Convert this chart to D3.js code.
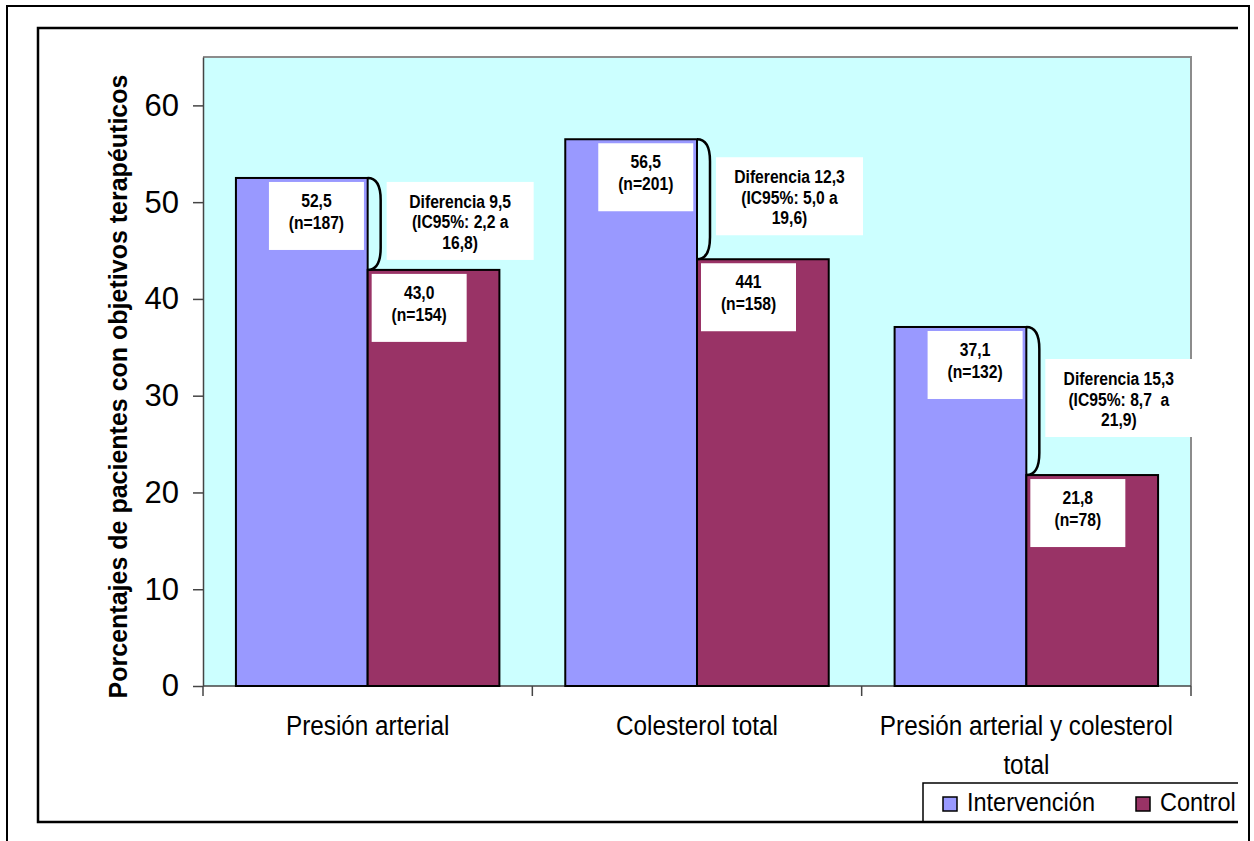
<!DOCTYPE html>
<html>
<head>
<meta charset="utf-8">
<script src="https://d3js.org/d3.v7.min.js"></script>
<style>
  body {margin: 0; background: #fff;}
  text {font-family: "Liberation Sans", Arial, sans-serif; fill: #000; white-space: pre;}
</style>
</head>
<body>
<script>
  // data
  const categories = ["Presión arterial", "Colesterol total", "Presión arterial y colesterol total"];
  const categoryLines = [["Presión arterial"], ["Colesterol total"], ["Presión arterial y colesterol", "total"]];
  const series = ["Intervención", "Control"];
  const intervencion = [52.5, 56.5, 37.1];
  const control = [43.0, 44.1, 21.8];
  const intervencionLabels = ["52,5", "56,5", "37,1"];
  const intervencionN = [187, 201, 132];
  const controlLabels = ["43,0", "441", "21,8"];
  const controlN = [154, 158, 78];
  const diffLabels = [
    ["Diferencia 9,5", "(IC95%: 2,2 a", "16,8)"],
    ["Diferencia 12,3", "(IC95%: 5,0 a", "19,6)"],
    ["Diferencia 15,3", "(IC95%: 8,7  a", "21,9)"]
  ];
  const yTicks = [0, 10, 20, 30, 40, 50, 60];
  const yTitle = "Porcentajes de pacientes con objetivos terapéuticos";

  const colors = {"Intervención": "#9999FF", "Control": "#993366"};

  const width = 1254, height = 841,
        plot = {left: 203, right: 1191, top: 57, bottom: 686};

  const svg = d3.select("body").append("svg")
      .attr("width", width)
      .attr("height", height);

  // frames
  svg.append("rect")
      .attr("x", 7).attr("y", 6).attr("width", 1242).attr("height", 870)
      .attr("fill", "none").attr("stroke", "#000").attr("stroke-width", 2);
  svg.append("path")
      .attr("d", "M1238,28 H38 V822 H1238")
      .attr("fill", "none").attr("stroke", "#000").attr("stroke-width", 2.5);

  // plot area
  svg.append("rect")
      .attr("x", plot.left).attr("y", plot.top)
      .attr("width", plot.right - plot.left).attr("height", plot.bottom - plot.top)
      .attr("fill", "#CCFFFF");
  svg.append("path")
      .attr("d", `M${plot.left},${plot.top} H${plot.right} V${plot.bottom}`)
      .attr("fill", "none").attr("stroke", "#8c8c8c").attr("stroke-width", 2);

  const x = d3.scaleBand().domain(categories).range([plot.left, plot.right]);
  const bw = x.bandwidth();
  const xs = d3.scaleBand().domain(series).range([bw * 0.1, bw * 0.9]);
  const y = d3.scaleLinear().domain([0, 65]).range([plot.bottom, plot.top]);

  // y axis
  const yAxis = svg.append("g")
      .attr("transform", `translate(${plot.left},0)`)
      .call(d3.axisLeft(y).tickValues(yTicks).tickSize(10).tickSizeOuter(0).tickPadding(14));
  yAxis.select(".domain").attr("stroke", "#444").attr("stroke-width", 1.5);
  yAxis.selectAll(".tick line").attr("stroke", "#444").attr("stroke-width", 1.5);
  yAxis.selectAll(".tick text")
      .attr("font-size", 31).attr("font-family", "Liberation Sans, Arial, sans-serif")
      .attr("fill", "#000");

  // x axis line and category ticks
  svg.append("line")
      .attr("x1", plot.left).attr("x2", plot.right)
      .attr("y1", plot.bottom).attr("y2", plot.bottom)
      .attr("stroke", "#444").attr("stroke-width", 1.5);
  const bounds = categories.map(c => x(c)).concat(x.range()[1]);
  svg.selectAll(".xtick").data(bounds).enter().append("line")
      .attr("x1", d => d).attr("x2", d => d)
      .attr("y1", plot.bottom).attr("y2", plot.bottom + 10)
      .attr("stroke", "#444").attr("stroke-width", 1.5);

  categories.forEach((c, i) => {
    categoryLines[i].forEach((line, j) => {
      svg.append("text")
          .attr("transform", `translate(${x(c) + bw / 2},${735 + j * 39}) scale(0.9,1)`)
          .attr("text-anchor", "middle")
          .attr("font-size", 27)
          .text(line);
    });
  });

  // y title
  svg.append("text")
      .attr("transform", `translate(127,${(plot.top + plot.bottom) / 2 + 15}) rotate(-90)`)
      .attr("text-anchor", "middle")
      .attr("font-size", 25)
      .attr("font-weight", "bold")
      .text(yTitle);

  // bars
  const rows = categories.map((c, i) => ({
    cat: c,
    vals: [
      {s: "Intervención", v: intervencion[i], label: intervencionLabels[i], n: intervencionN[i]},
      {s: "Control", v: control[i], label: controlLabels[i], n: controlN[i]}
    ],
    diff: diffLabels[i]
  }));

  const groups = svg.selectAll(".group").data(rows).enter().append("g")
      .attr("transform", d => `translate(${x(d.cat)},0)`);

  groups.selectAll("rect.bar").data(d => d.vals).enter().append("rect")
      .attr("class", "bar")
      .attr("x", d => xs(d.s))
      .attr("y", d => y(d.v))
      .attr("width", xs.bandwidth())
      .attr("height", d => y(0) - y(d.v))
      .attr("fill", d => colors[d.s])
      .attr("stroke", "#000").attr("stroke-width", 2);

  // value boxes
  const boxW = 95, boxH = 68;
  groups.each(function (d) {
    const g = d3.select(this);
    d.vals.forEach(v => {
      const bx = xs(v.s) + (v.s === "Intervención" ? 33 : 4);
      const by = y(v.v) + 4;
      g.append("rect")
          .attr("x", bx).attr("y", by).attr("width", boxW).attr("height", boxH)
          .attr("fill", "#fff");
      [v.label, `(n=${v.n})`].forEach((t, j) => {
        g.append("text")
            .attr("transform", `translate(${bx + boxW / 2},${by + 25 + j * 22}) scale(0.87,1)`)
            .attr("text-anchor", "middle")
            .attr("font-size", 18).attr("font-weight", "bold")
            .text(t);
      });
    });

    // brace between the two bar tops
    const bxr = xs("Control");
    const y0 = y(d.vals[0].v), y1 = y(d.vals[1].v);
    const w = 13, r = 22;
    g.append("path")
        .attr("d", `M${bxr},${y0} Q${bxr + w},${y0} ${bxr + w},${y0 + r} L${bxr + w},${y1 - r} Q${bxr + w},${y1} ${bxr},${y1}`)
        .attr("fill", "none").attr("stroke", "#000").attr("stroke-width", 2.5);

    // difference box
    const dw = 147, dh = 78;
    const dx = bxr + 19, dy = (y0 + y1) / 2 - 42;
    g.append("rect")
        .attr("x", dx).attr("y", dy).attr("width", dw).attr("height", dh)
        .attr("fill", "#fff");
    d.diff.forEach((t, j) => {
      g.append("text")
          .attr("transform", `translate(${dx + dw / 2},${dy + 26 + j * 20.5}) scale(0.87,1)`)
          .attr("text-anchor", "middle")
          .attr("font-size", 18).attr("font-weight", "bold")
          .text(t);
    });
  });

  // legend
  svg.append("path")
      .attr("d", "M1238,783 H923 V822")
      .attr("fill", "none").attr("stroke", "#000").attr("stroke-width", 1.5);
  const legendX = [943, 1136];
  series.forEach((s, i) => {
    svg.append("rect")
        .attr("x", legendX[i]).attr("y", 797).attr("width", 14).attr("height", 14)
        .attr("fill", colors[s]).attr("stroke", "#000").attr("stroke-width", 1.5);
    svg.append("text")
        .attr("transform", `translate(${legendX[i] + 24},811) scale(0.94,1)`)
        .attr("font-size", 25)
        .text(s);
  });
</script>
</body>
</html>
